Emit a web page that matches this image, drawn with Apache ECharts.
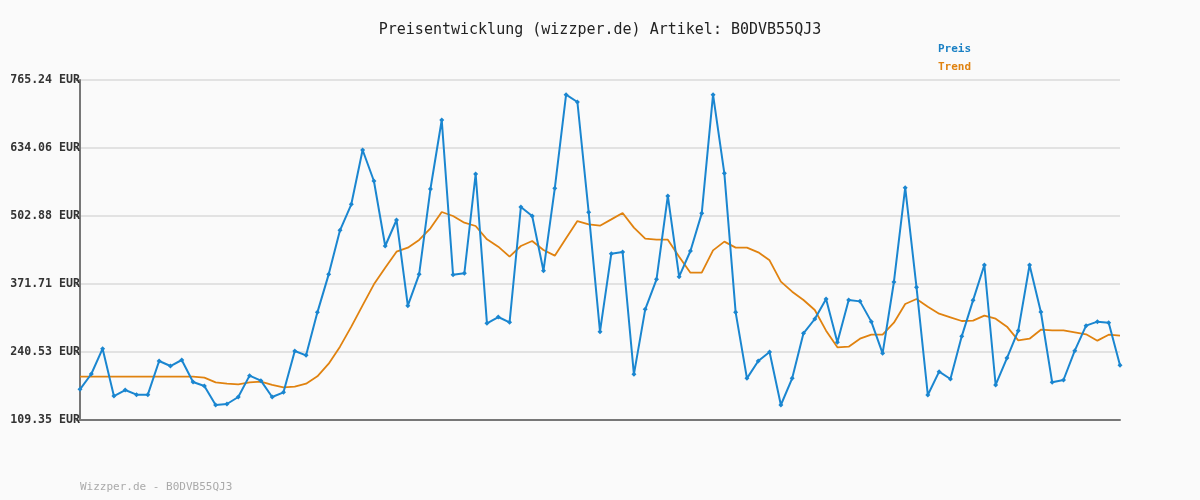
<!DOCTYPE html>
<html>
<head>
<meta charset="utf-8">
<script src="https://cdn.jsdelivr.net/npm/echarts@6/dist/echarts.min.js"></script>
<style>
html, body { margin: 0; padding: 0; background: #fafafa; }
#chart { width: 1200px; height: 500px; }
</style>
</head>
<body>
<div id="chart"></div>
<script>
const titleText = "Preisentwicklung (wizzper.de) Artikel: B0DVB55QJ3";
const footerText = "Wizzper.de - B0DVB55QJ3";
const yTicks = [109.35, 240.53, 371.71, 502.88, 634.06, 765.24];

const preis = [
	168.5, 198.1, 247.0, 155.6, 167.2, 158.2, 158.2, 223.2, 213.5, 225.1,
	182.6, 174.9, 138.3, 140.2, 153.7, 194.9, 185.2, 153.7, 162.7, 242.5,
	234.1, 317.0, 390.3, 475.2, 525.4, 630.2, 570.4, 445.0, 495.2, 329.9,
	390.3, 554.9, 688.1, 389.7, 392.3, 583.9, 295.8, 308.0, 297.7, 520.2,
	502.9, 397.4, 556.2, 736.9, 722.8, 509.9, 279.7, 430.2, 433.4, 197.4,
	322.8, 380.7, 541.5, 385.8, 435.4, 508.0, 736.9, 585.2, 317.0, 189.7,
	223.2, 240.5, 138.3, 189.7, 276.5, 304.2, 342.8, 259.2, 340.8, 338.2,
	299.1, 237.9, 375.6, 557.5, 365.3, 157.6, 202.6, 188.4, 270.7, 340.2,
	408.4, 176.9, 228.9, 281.7, 408.4, 317.7, 182.0, 186.5, 243.1, 291.3,
	299.1, 297.1, 214.8
];

const trend = [
	192.9, 192.9, 192.9, 192.9, 192.9, 192.9, 192.9, 192.9, 192.9, 192.9,
	192.9, 191.0, 182.0, 179.5, 178.2, 182.0, 183.3, 176.9, 172.4, 173.7,
	179.5, 193.6, 218.0, 250.8, 289.4, 330.6, 371.1, 403.2, 434.1, 441.8,
	456.6, 479.1, 510.6, 502.9, 490.0, 483.6, 457.9, 443.7, 424.4, 445.0,
	454.7, 437.3, 426.4, 459.8, 493.2, 486.8, 484.2, 496.4, 508.7, 480.4,
	459.2, 457.2, 457.2, 424.4, 393.6, 393.6, 436.6, 453.4, 441.8, 441.8,
	432.8, 417.4, 376.2, 356.9, 340.8, 321.5, 281.7, 249.5, 250.8, 266.2,
	273.9, 273.9, 297.1, 333.1, 342.8, 328.0, 314.5, 307.4, 300.3, 301.0,
	310.6, 304.8, 289.4, 263.0, 266.2, 283.6, 282.3, 282.3, 278.5, 274.6,
	262.4, 273.9, 272.0
];

const categories = preis.map((v, i) => String(i + 1));
const mono = "DejaVu Sans Mono";

const chart = echarts.init(document.getElementById("chart"));
chart.setOption({
	backgroundColor: "#fafafa",
	animation: false,
	title: [
		{
			text: titleText,
			left: "center",
			top: 18,
			textStyle: { fontFamily: mono, fontSize: 15, fontWeight: "normal", color: "#222" },
		},
		{
			text: footerText,
			left: 75,
			top: 477,
			textStyle: { fontFamily: mono, fontSize: 11, fontWeight: "normal", color: "#aaa" },
		},
	],
	legend: {
		orient: "vertical",
		left: 928,
		top: 39,
		itemGap: 7,
		itemWidth: 0,
		itemHeight: 0,
		icon: "none",
		textStyle: { fontFamily: mono, fontSize: 11, fontWeight: "bold", padding: 0 },
		data: [
			{ name: "Preis", textStyle: { color: "#1a80c4" } },
			{ name: "Trend", textStyle: { color: "#e0820f" } },
		],
	},
	grid: { left: 80, right: 80, top: 80, bottom: 80 },
	xAxis: {
		type: "category",
		boundaryGap: false,
		data: categories,
		axisLine: { lineStyle: { color: "#777", width: 2 } },
		axisTick: { show: false },
		axisLabel: { show: false },
	},
	yAxis: {
		type: "value",
		min: yTicks[0],
		max: yTicks[yTicks.length - 1],
		interval: (yTicks[yTicks.length - 1] - yTicks[0]) / (yTicks.length - 1),
		axisLine: { show: true, lineStyle: { color: "#777", width: 2 } },
		axisTick: { show: true, length: 4, lineStyle: { color: "#777" } },
		axisLabel: {
			fontFamily: mono,
			fontSize: 11.6,
			fontWeight: "bold",
			color: "#333",
			margin: 0,
			formatter: v => v.toFixed(2) + " EUR",
		},
		splitLine: { lineStyle: { color: "#e2e2e2", width: 2 } },
	},
	series: [
		{
			name: "Preis",
			type: "line",
			data: preis,
			color: "#1a86d0",
			symbol: "diamond",
			symbolSize: 5,
			lineStyle: { width: 2 },
			z: 3,
		},
		{
			name: "Trend",
			type: "line",
			data: trend,
			color: "#e0820f",
			showSymbol: false,
			lineStyle: { width: 1.8 },
			z: 2,
		},
	],
});
</script>
</body>
</html>
